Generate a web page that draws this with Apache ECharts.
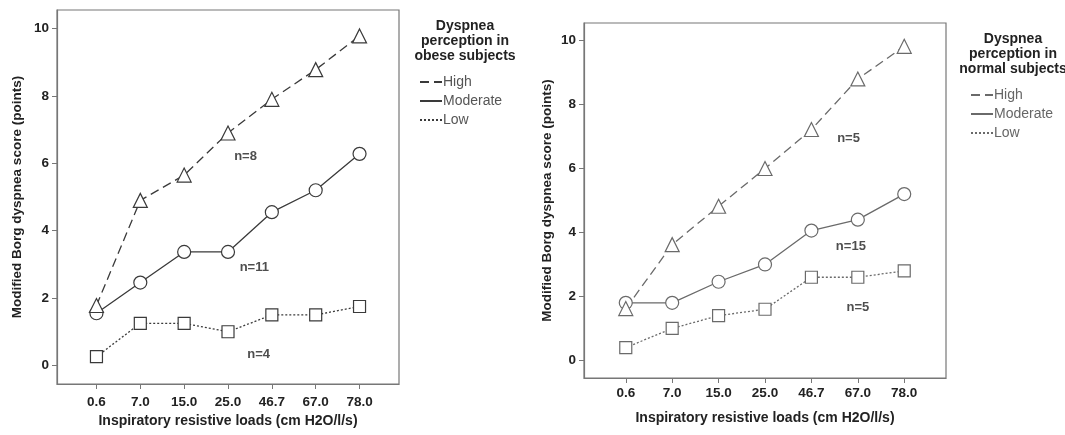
<!DOCTYPE html>
<html>
<head>
<meta charset="utf-8">
<script src="https://cdn.jsdelivr.net/npm/echarts@6/dist/echarts.min.js"></script>
<style>
  html, body { margin: 0; padding: 0; background: #fff; }
  #main { width: 1065px; height: 435px; }
</style>
</head>
<body>
<div id="main"></div>
<script>
// x categories (resistive loads) and y ticks
var loads = ['0.6', '7.0', '15.0', '25.0', '46.7', '67.0', '78.0'];
var yTicks = [0, 2, 4, 6, 8, 10];

// obese subjects
var obeseHigh = [1.78, 4.9, 5.65, 6.9, 7.9, 8.78, 9.78];
var obeseModerate = [1.55, 2.46, 3.37, 3.37, 4.55, 5.2, 6.28];
var obeseLow = [0.26, 1.25, 1.25, 1.0, 1.5, 1.5, 1.75];

// normal subjects
var normalHigh = [1.62, 3.62, 4.82, 6.0, 7.22, 8.8, 9.82];
var normalModerate = [1.8, 1.8, 2.46, 3.0, 4.06, 4.4, 5.2];
var normalLow = [0.4, 1.0, 1.4, 1.6, 2.6, 2.6, 2.8];

// n= annotations: [text, x (category index), y]
var obeseNotes = [['n=8', 3.4, 6.2], ['n=11', 3.6, 2.9], ['n=4', 3.7, 0.33]];
var normalNotes = [['n=5', 4.8, 6.95], ['n=15', 4.85, 3.57], ['n=5', 5.0, 1.66]];

var seriesNames = ['High', 'Moderate', 'Low'];

var chart = echarts.init(document.getElementById('main'));
var font = 'Liberation Sans, Arial, sans-serif';
var tickIdx = loads.map(function (d, i) { return i; });

function pts(arr) {
  return arr.map(function (v, i) { return [i, v]; });
}

function xAxis(gi, gap, margin) {
  return {
    type: 'value', gridIndex: gi, min: -0.9, max: 6.9,
    name: 'Inspiratory resistive loads (cm H2O/l/s)',
    nameLocation: 'middle', nameGap: gap,
    nameTextStyle: { fontFamily: font, fontSize: 14, fontWeight: 'bold', color: '#222' },
    axisLine: { show: true, onZero: false, lineStyle: { color: '#777', width: 1.2 } },
    axisTick: { show: true, customValues: tickIdx, length: 5, lineStyle: { color: '#777' } },
    axisLabel: {
      customValues: tickIdx, margin: margin,
      formatter: function (v) { return loads[v]; },
      fontFamily: font, fontSize: 13.5, fontWeight: 'bold', color: '#222'
    },
    splitLine: { show: false }
  };
}

function yAxis(gi, gap) {
  return {
    type: 'value', gridIndex: gi, min: -0.55, max: 10.55,
    name: 'Modified Borg dyspnea score (points)',
    nameLocation: 'middle', nameGap: gap,
    nameTextStyle: { fontFamily: font, fontSize: 13.5, fontWeight: 'bold', color: '#222' },
    axisLine: { show: true, onZero: false, lineStyle: { color: '#777', width: 1.2 } },
    axisTick: { show: true, customValues: yTicks, length: 5, lineStyle: { color: '#777' } },
    axisLabel: {
      customValues: yTicks, margin: 8,
      fontFamily: font, fontSize: 13.5, fontWeight: 'bold', color: '#222'
    },
    splitLine: { show: false }
  };
}

function lineSeries(name, gi, arr, symbol, size, dash, color) {
  return {
    name: name, type: 'line', xAxisIndex: gi, yAxisIndex: gi,
    data: pts(arr), symbol: symbol, symbolSize: size,
    showAllSymbol: true,
    lineStyle: { color: color, width: 1.3, type: dash },
    itemStyle: { color: '#fff', borderColor: color, borderWidth: 1.2 },
    emphasis: { disabled: true },
    z: 3
  };
}

function noteSeries(gi, notes) {
  return {
    type: 'scatter', xAxisIndex: gi, yAxisIndex: gi, symbolSize: 0,
    data: notes.map(function (n) { return { value: [n[1], n[2]], name: n[0] }; }),
    label: {
      show: true, position: 'inside', formatter: '{b}',
      fontFamily: font, fontSize: 13, fontWeight: 'bold', color: '#222'
    },
    silent: true
  };
}

var dark = '#3a3a3a';
var grey = '#6a6a6a';

var option = {
  animation: false,
  backgroundColor: '#fff',
  grid: [
    { left: 57, top: 10, width: 342, height: 374, show: true, borderColor: '#777', borderWidth: 1.2 },
    { left: 584, top: 23, width: 362, height: 355, show: true, borderColor: '#777', borderWidth: 1.2 }
  ],
  xAxis: [xAxis(0, 27, 11), xAxis(1, 33, 8)],
  yAxis: [yAxis(0, 33), yAxis(1, 30)],
  title: [
    {
      text: 'Dyspnea\nperception in\nobese subjects', left: 460, top: 14, textAlign: 'center',
      textStyle: { fontFamily: font, fontSize: 14, fontWeight: 'bold', color: '#222', lineHeight: 15 }
    },
    {
      text: 'Dyspnea\nperception in\nnormal subjects', left: 1008, top: 27, textAlign: 'center',
      textStyle: { fontFamily: font, fontSize: 14, fontWeight: 'bold', color: '#222', lineHeight: 15 }
    }
  ],
  legend: [
    {
      data: seriesNames, orient: 'vertical', left: 414, top: 70,
      itemWidth: 22, itemHeight: 12, itemGap: 5,
      itemStyle: { opacity: 0 }, lineStyle: { color: dark },
      textStyle: { fontFamily: font, fontSize: 14, color: '#555', padding: [0, 0, 0, -4] },
      selectedMode: false
    },
    {
      data: seriesNames, orient: 'vertical', left: 965, top: 83,
      itemWidth: 22, itemHeight: 12, itemGap: 5,
      itemStyle: { opacity: 0 }, lineStyle: { color: grey },
      textStyle: { fontFamily: font, fontSize: 14, color: '#666', padding: [0, 0, 0, -4] },
      selectedMode: false
    }
  ],
  series: [
    lineSeries('Low', 0, obeseLow, 'rect', 12, [2, 2], dark),
    lineSeries('Moderate', 0, obeseModerate, 'circle', 13, 'solid', dark),
    lineSeries('High', 0, obeseHigh, 'triangle', 14, [9, 5], dark),
    noteSeries(0, obeseNotes),
    lineSeries('Low', 1, normalLow, 'rect', 12, [2, 2], grey),
    lineSeries('Moderate', 1, normalModerate, 'circle', 13, 'solid', grey),
    lineSeries('High', 1, normalHigh, 'triangle', 14, [9, 5], grey),
    noteSeries(1, normalNotes)
  ]
};

chart.setOption(option);
</script>
</body>
</html>
